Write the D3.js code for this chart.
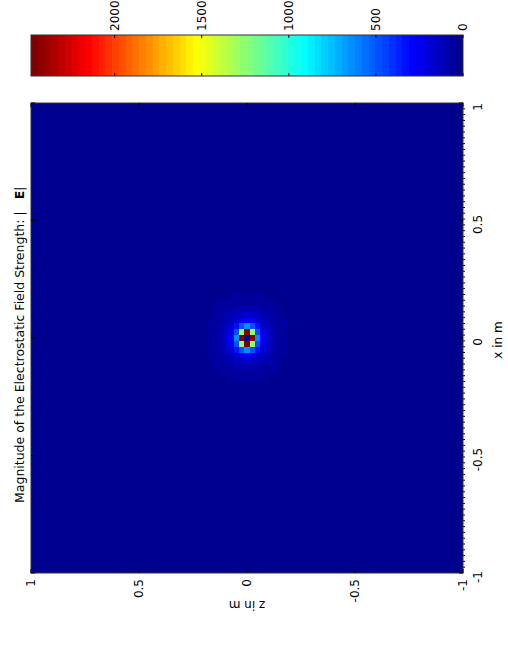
<!DOCTYPE html>
<html>
<head>
<meta charset="utf-8">
<script src="https://cdn.jsdelivr.net/npm/d3@7"></script>
<style>
  html, body { margin: 0; padding: 0; background: #fff; }
  svg { display: block; }
  text { font-family: "DejaVu Sans", "Liberation Sans", Arial, sans-serif; fill: #000; }
</style>
</head>
<body>
<svg id="fig" width="508" height="652"></svg>
<script>
// ---- data ----------------------------------------------------------------
const gridCount = 81;                 // samples along x and along z
const xTicks = [-1, -0.5, 0, 0.5, 1];
const zTicks = [-1, -0.5, 0, 0.5, 1];
const cbarTicks = [0, 500, 1000, 1500, 2000];
const cbarMax = 2480;                 // upper colour limit of |E|
const background = 0;                 // |E| far from the charge
// |E| in the 15 x 15 cells around the point charge at the origin (top row = +z)
const peakField = [
  [25, 29, 34, 38, 43, 47, 50, 51, 50, 47, 43, 38, 34, 29, 25],
  [29, 34, 41, 48, 55, 62, 67, 69, 67, 62, 55, 48, 41, 34, 29],
  [34, 41, 50, 60, 73, 86, 95, 99, 95, 86, 73, 60, 50, 41, 34],
  [38, 48, 60, 78, 99, 124, 146, 155, 146, 124, 99, 78, 60, 48, 38],
  [43, 55, 73, 99, 138, 191, 248, 276, 248, 191, 138, 99, 73, 55, 43],
  [47, 62, 86, 124, 191, 310, 496, 620, 496, 310, 191, 124, 86, 62, 47],
  [50, 67, 95, 146, 248, 496, 1240, 2480, 1240, 496, 248, 146, 95, 67, 50],
  [51, 69, 99, 155, 276, 620, 2480, 0, 2480, 620, 276, 155, 99, 69, 51],
  [50, 67, 95, 146, 248, 496, 1240, 2480, 1240, 496, 248, 146, 95, 67, 50],
  [47, 62, 86, 124, 191, 310, 496, 620, 496, 310, 191, 124, 86, 62, 47],
  [43, 55, 73, 99, 138, 191, 248, 276, 248, 191, 138, 99, 73, 55, 43],
  [38, 48, 60, 78, 99, 124, 146, 155, 146, 124, 99, 78, 60, 48, 38],
  [34, 41, 50, 60, 73, 86, 95, 99, 95, 86, 73, 60, 50, 41, 34],
  [29, 34, 41, 48, 55, 62, 67, 69, 67, 62, 55, 48, 41, 34, 29],
  [25, 29, 34, 38, 43, 47, 50, 51, 50, 47, 43, 38, 34, 29, 25]
];

// ---- jet colour map (64 levels) -----------------------------------------
function jet(m) {
  const n = Math.ceil(m / 4);
  const u = [];
  for (let i = 1; i <= n; i++) u.push(i / n);
  for (let i = 1; i < n; i++) u.push(1);
  for (let i = n; i >= 1; i--) u.push(i / n);
  const off = Math.ceil(n / 2) - (m % 4 === 1 ? 1 : 0);
  const J = Array.from({ length: m }, () => [0, 0, 0]);
  u.forEach((val, k) => {
    const g = off + k + 1, r = g + n, b = g - n;
    if (g >= 1 && g <= m) J[g - 1][1] = val;
    if (r >= 1 && r <= m) J[r - 1][0] = val;
    if (b >= 1 && b <= m) J[b - 1][2] = val;
  });
  return J.map(c => d3.rgb(c[0] * 255, c[1] * 255, c[2] * 255).formatHex());
}
const jetColors = jet(64);
const color = d3.scaleQuantize().domain([0, cbarMax]).range(jetColors);

// ---- figure (drawn in landscape, turned a quarter turn) -----------------
const svg = d3.select("#fig");
const fig = svg.append("g").attr("transform", "translate(0,652) rotate(-90)");

const ax = { left: 79, top: 31, width: 470, height: 432 };
const xScale = d3.scaleLinear().domain([-1, 1]).range([ax.left, ax.left + ax.width]);
const zScale = d3.scaleLinear().domain([-1, 1]).range([ax.top + ax.height, ax.top]);
const colBand = d3.scaleBand().domain(d3.range(gridCount)).range([ax.left, ax.left + ax.width]);
const rowBand = d3.scaleBand().domain(d3.range(gridCount)).range([ax.top, ax.top + ax.height]);

const mid = (gridCount - 1) / 2, half = (peakField.length - 1) / 2;
const cells = [];
for (let r = 0; r < gridCount; r++) {
  for (let c = 0; c < gridCount; c++) {
    const dr = r - mid, dc = c - mid;
    const v = (Math.abs(dr) <= half && Math.abs(dc) <= half) ? peakField[dr + half][dc + half] : background;
    cells.push({ r, c, v });
  }
}

fig.append("g")
  .attr("shape-rendering", "crispEdges")
  .selectAll("rect").data(cells).join("rect")
  .attr("x", d => colBand(d.c))
  .attr("y", d => rowBand(d.r))
  .attr("width", colBand.bandwidth())
  .attr("height", rowBand.bandwidth())
  .attr("fill", d => color(d.v));

// short marks along the lower x edge at each cell boundary
const edgeX = d3.range(1, gridCount).map(i => colBand(i));
fig.append("g").selectAll("line").data(edgeX).join("line")
  .attr("x1", d => d).attr("x2", d => d)
  .attr("y1", ax.top + ax.height - 1).attr("y2", ax.top + ax.height + 2)
  .attr("stroke", "#000").attr("stroke-width", 1);

// axes box
fig.append("rect")
  .attr("x", ax.left).attr("y", ax.top)
  .attr("width", ax.width).attr("height", ax.height)
  .attr("fill", "none").attr("stroke", "#333").attr("stroke-width", 1);

// inward ticks
const tl = 4;
const tickG = fig.append("g").attr("stroke", "#000").attr("stroke-width", 1);
xTicks.forEach(t => {
  tickG.append("line").attr("x1", xScale(t)).attr("x2", xScale(t))
    .attr("y1", ax.top + ax.height).attr("y2", ax.top + ax.height - tl);
  tickG.append("line").attr("x1", xScale(t)).attr("x2", xScale(t))
    .attr("y1", ax.top).attr("y2", ax.top + tl);
});
zTicks.forEach(t => {
  tickG.append("line").attr("y1", zScale(t)).attr("y2", zScale(t))
    .attr("x1", ax.left).attr("x2", ax.left + tl);
  tickG.append("line").attr("y1", zScale(t)).attr("y2", zScale(t))
    .attr("x1", ax.left + ax.width).attr("x2", ax.left + ax.width - tl);
});

// tick labels (plain hyphen for negatives)
fig.append("g").selectAll("text").data(xTicks).join("text")
  .attr("x", d => xScale(d) - 4)
  .attr("y", ax.top + ax.height + 19)
  .attr("text-anchor", "middle")
  .attr("font-size", 12)
  .text(d => String(d));

fig.append("g").selectAll("text").data(zTicks).join("text")
  .attr("x", ax.left - 6)
  .attr("y", d => zScale(d))
  .attr("dy", "0.36em")
  .attr("text-anchor", "end")
  .attr("font-size", 12)
  .text(d => String(d));

// axis labels
fig.append("text")
  .attr("x", ax.left + ax.width / 2 - 2)
  .attr("y", 502)
  .attr("text-anchor", "middle")
  .attr("font-size", 12)
  .text("x in m");

fig.append("text")
  .attr("transform", `translate(51,${ax.top + ax.height / 2}) rotate(-90)`)
  .attr("text-anchor", "middle")
  .attr("font-size", 12)
  .text("z in m");

// title
const title = fig.append("text")
  .attr("x", 149).attr("y", 24)
  .attr("font-size", 12.5);
title.append("tspan").text("Magnitude of the Electrostatic Field Strength: |");
title.append("tspan").attr("dx", 12).attr("font-weight", "bold").text("E");
title.append("tspan").text("|");

// ---- colour bar ----------------------------------------------------------
const cb = { left: 576, width: 41 };
const cScale = d3.scaleLinear().domain([0, cbarMax]).range([ax.top + ax.height, ax.top]);
const step = cbarMax / jetColors.length;
fig.append("g")
  .attr("shape-rendering", "crispEdges")
  .selectAll("rect").data(jetColors).join("rect")
  .attr("x", cb.left)
  .attr("y", (d, i) => cScale((i + 1) * step))
  .attr("width", cb.width)
  .attr("height", (d, i) => cScale(i * step) - cScale((i + 1) * step))
  .attr("fill", d => d);

fig.append("rect")
  .attr("x", cb.left).attr("y", ax.top)
  .attr("width", cb.width).attr("height", ax.height)
  .attr("fill", "none").attr("stroke", "#333").attr("stroke-width", 1);

const cbTicks = fig.append("g").attr("stroke", "#000").attr("stroke-width", 1);
cbarTicks.forEach(t => {
  cbTicks.append("line").attr("x1", cb.left).attr("x2", cb.left + 3)
    .attr("y1", cScale(t)).attr("y2", cScale(t));
  cbTicks.append("line").attr("x1", cb.left + cb.width).attr("x2", cb.left + cb.width - 3)
    .attr("y1", cScale(t)).attr("y2", cScale(t));
});

fig.append("g").selectAll("text").data(cbarTicks).join("text")
  .attr("x", cb.left + cb.width + 4)
  .attr("y", d => cScale(d))
  .attr("dy", "0.36em")
  .attr("font-size", 12)
  .text(d => d);
</script>
</body>
</html>
